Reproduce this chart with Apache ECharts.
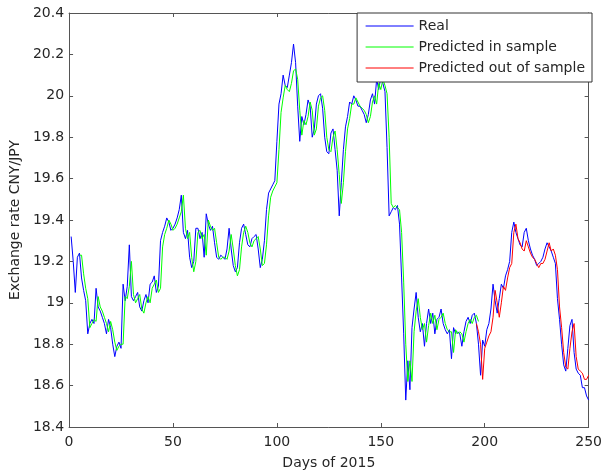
<!DOCTYPE html>
<html>
<head>
<meta charset="utf-8">
<script src="https://cdn.jsdelivr.net/npm/echarts@6/dist/echarts.min.js"></script>
<style>
  html, body { margin: 0; padding: 0; background: #fff; }
  #chart { width: 605px; height: 475px; }
</style>
</head>
<body>
<div id="chart"></div>
<script>
// CNY/JPY exchange rate over the trading days of 2015

// Observed rate, days 1..250
const realStart = 1;
const realRates = [
  19.32, 19.20, 19.05, 19.22, 19.24, 19.12, 19.06, 19.01, 18.85, 18.90,
  18.92, 18.90, 19.07, 18.98, 18.96, 18.93, 18.90, 18.85, 18.92, 18.88,
  18.80, 18.74, 18.79, 18.81, 18.78, 19.09, 19.01, 19.08, 19.28, 19.03,
  19.01, 19.03, 19.05, 18.98, 18.96, 19.01, 19.04, 19.00, 19.09, 19.10,
  19.13, 19.05, 19.08, 19.30, 19.34, 19.37, 19.41, 19.39, 19.35, 19.36,
  19.38, 19.41, 19.45, 19.52, 19.34, 19.31, 19.35, 19.22, 19.17, 19.20,
  19.36, 19.36, 19.31, 19.34, 19.22, 19.43, 19.38, 19.35, 19.37, 19.29,
  19.22, 19.21, 19.23, 19.22, 19.21, 19.26, 19.36, 19.26, 19.18, 19.15,
  19.17, 19.29, 19.36, 19.38, 19.33, 19.28, 19.27, 19.31, 19.32, 19.33,
  19.26, 19.17, 19.21, 19.30, 19.45, 19.53, 19.55, 19.57, 19.59, 19.78,
  19.96, 20.01, 20.10, 20.05, 20.04, 20.10, 20.16, 20.25, 20.16, 19.95,
  19.78, 19.90, 19.86, 19.91, 19.98, 19.95, 19.80, 19.84, 19.96, 20.00,
  20.01, 19.94, 19.80, 19.73, 19.72, 19.82, 19.84, 19.74, 19.64, 19.42,
  19.58, 19.74, 19.85, 19.90, 19.97, 19.96, 20.00, 19.98, 19.95, 19.95,
  19.93, 19.91, 19.87, 19.91, 19.98, 20.01, 19.96, 20.08, 20.03, 20.09,
  20.06, 20.02, 19.75, 19.42, 19.44, 19.46, 19.45, 19.47, 19.38, 19.12,
  18.85, 18.53, 18.72, 18.58, 18.88, 18.97, 19.05, 18.93, 18.86, 18.90,
  18.79, 18.90, 18.97, 18.90, 18.95, 18.85, 18.92, 18.93, 18.97, 18.90,
  18.87, 18.85, 18.87, 18.73, 18.88, 18.85, 18.86, 18.85, 18.79, 18.86,
  18.91, 18.93, 18.90, 18.94, 18.95, 18.90, 18.80, 18.65, 18.82, 18.79,
  18.87, 18.90, 18.97, 19.09, 19.01, 18.95, 19.02, 19.09, 19.07, 19.13,
  19.16, 19.20, 19.34, 19.39, 19.34, 19.31, 19.28, 19.27, 19.34, 19.36,
  19.30, 19.26, 19.23, 19.21, 19.18, 19.19, 19.20, 19.22, 19.26, 19.29,
  19.27, 19.25, 19.22, 19.19, 19.02, 18.92, 18.80, 18.70, 18.67, 18.78,
  18.89, 18.92, 18.76, 18.68, 18.66, 18.65, 18.59, 18.59, 18.55, 18.53
];

// In-sample model output, days 5..197
const inSampleStart = 5;
const inSampleRates = [
  19.23, 19.23, 19.14, 19.07, 19.02, 18.88, 18.90, 18.92, 18.91, 19.03,
  18.98, 18.96, 18.93, 18.90, 18.86, 18.91, 18.87, 18.81, 18.77, 18.79,
  18.80, 18.80, 19.03, 19.02, 19.08, 19.20, 19.04, 19.00, 19.02, 19.04,
  18.97, 18.95, 19.00, 19.03, 19.00, 19.07, 19.09, 19.11, 19.05, 19.07,
  19.27, 19.33, 19.36, 19.40, 19.38, 19.35, 19.36, 19.38, 19.41, 19.44,
  19.52, 19.36, 19.31, 19.34, 19.22, 19.15, 19.20, 19.34, 19.35, 19.31,
  19.33, 19.23, 19.40, 19.37, 19.35, 19.36, 19.29, 19.22, 19.21, 19.22,
  19.22, 19.21, 19.25, 19.33, 19.26, 19.18, 19.13, 19.16, 19.27, 19.34,
  19.37, 19.34, 19.29, 19.27, 19.30, 19.31, 19.32, 19.26, 19.18, 19.19,
  19.28, 19.42, 19.51, 19.54, 19.56, 19.58, 19.74, 19.92, 19.99, 20.05,
  20.03, 20.02, 20.06, 20.12, 20.13, 20.08, 19.93, 19.81, 19.88, 19.86,
  19.90, 19.97, 19.93, 19.81, 19.84, 19.95, 19.99, 20.00, 19.93, 19.80,
  19.74, 19.73, 19.80, 19.83, 19.74, 19.62, 19.48, 19.58, 19.73, 19.84,
  19.89, 19.96, 19.96, 19.99, 19.97, 19.95, 19.94, 19.93, 19.91, 19.87,
  19.90, 19.97, 20.00, 19.96, 20.06, 20.03, 20.08, 20.05, 20.01, 19.80,
  19.48, 19.46, 19.47, 19.46, 19.45, 19.34, 19.10, 18.80, 18.62, 18.72,
  18.62, 18.86, 18.96, 19.02, 18.93, 18.87, 18.90, 18.81, 18.89, 18.95,
  18.90, 18.94, 18.87, 18.92, 18.93, 18.95, 18.90, 18.87, 18.86, 18.86,
  18.76, 18.87, 18.85, 18.86, 18.85, 18.81, 18.86, 18.90, 18.92, 18.90,
  18.93, 18.94, 18.91
];

// Out-of-sample forecast, days 196..250
const outSampleStart = 196;
const outSampleRates = [
  18.90, 18.86, 18.80, 18.63, 18.78, 18.81, 18.84, 18.86, 18.93, 19.06,
  19.00, 18.93, 19.00, 19.08, 19.06, 19.12, 19.17, 19.19, 19.34, 19.38,
  19.31, 19.29, 19.26, 19.25, 19.30, 19.27, 19.24, 19.22, 19.21, 19.19,
  19.17, 19.19, 19.19, 19.21, 19.25, 19.29, 19.25, 19.26, 19.23, 19.16,
  18.98, 18.88, 18.76, 18.69, 18.68, 18.78, 18.86, 18.90, 18.74, 18.68,
  18.67, 18.66, 18.63, 18.63, 18.65
];

// Axis ticks
const xTicks = [0, 50, 100, 150, 200, 250];
const yTicks = [18.4, 18.6, 18.8, 19, 19.2, 19.4, 19.6, 19.8, 20, 20.2, 20.4];

const seriesNames = ['Real', 'Predicted in sample', 'Predicted out of sample'];

function toPairs(start, values) {
  return values.map((v, i) => [start + i, v]);
}

const FONT = '"DejaVu Sans", "Liberation Sans", Arial, sans-serif';
const TEXT = '#262626';
const FRAME = '#555';

const chart = echarts.init(document.getElementById('chart'), null, { renderer: 'canvas' });

const xMin = xTicks[0], xMax = xTicks[xTicks.length - 1];
const yMin = yTicks[0], yMax = yTicks[yTicks.length - 1];
const xStep = xTicks[1] - xTicks[0];
const yStep = +(yTicks[1] - yTicks[0]).toFixed(1);

const frameAxis = {
  axisLine: { show: true, onZero: false, lineStyle: { color: FRAME, width: 1 } },
  axisTick: { show: true, inside: true, length: 4, lineStyle: { color: FRAME } },
  splitLine: { show: false }
};

chart.setOption({
  animation: false,
  backgroundColor: '#fff',
  grid: { left: 67, right: 13, top: 13, bottom: 48, containLabel: false },
  legend: {
    data: seriesNames,
    orient: 'vertical',
    right: 13,
    top: 13,
    itemWidth: 48,
    itemHeight: 14,
    itemGap: 7,
    padding: [6, 7, 7, 8],
    borderColor: '#333',
    borderWidth: 1,
    borderRadius: 0,
    backgroundColor: '#fff',
    // plain thin line samples, no marker in the middle
    itemStyle: { opacity: 0 },
    lineStyle: { width: 1 },
    textStyle: { fontFamily: FONT, fontSize: 14, color: TEXT },
    z: 10
  },
  xAxis: [
    Object.assign({
      type: 'value', min: xMin, max: xMax, interval: xStep, position: 'bottom',
      name: 'Days of 2015', nameLocation: 'middle', nameGap: 29,
      nameTextStyle: { fontFamily: FONT, fontSize: 14, color: TEXT },
      axisLabel: { fontFamily: FONT, fontSize: 14, color: TEXT, margin: 8 }
    }, frameAxis),
    Object.assign({
      type: 'value', min: xMin, max: xMax, interval: xStep, position: 'top',
      axisLabel: { show: false }
    }, frameAxis)
  ],
  yAxis: [
    Object.assign({
      type: 'value', min: yMin, max: yMax, interval: yStep, position: 'left',
      name: 'Exchange rate CNY/JPY', nameLocation: 'middle', nameGap: 47,
      nameTextStyle: { fontFamily: FONT, fontSize: 14, color: TEXT },
      axisLabel: {
        fontFamily: FONT, fontSize: 14, color: TEXT, margin: 5,
        formatter: v => String(+v.toFixed(1))
      }
    }, frameAxis),
    Object.assign({
      type: 'value', min: yMin, max: yMax, interval: yStep, position: 'right',
      axisLabel: { show: false }
    }, frameAxis)
  ],
  series: [
    {
      name: seriesNames[0], type: 'line', data: toPairs(realStart, realRates),
      symbol: 'none', lineStyle: { color: '#0000ff', width: 1 }, itemStyle: { color: '#0000ff' }
    },
    {
      name: seriesNames[1], type: 'line', data: toPairs(inSampleStart, inSampleRates),
      symbol: 'none', lineStyle: { color: '#00ff00', width: 1 }, itemStyle: { color: '#00ff00' }
    },
    {
      name: seriesNames[2], type: 'line', data: toPairs(outSampleStart, outSampleRates),
      symbol: 'none', lineStyle: { color: '#ff0000', width: 1 }, itemStyle: { color: '#ff0000' }
    }
  ]
});
</script>
</body>
</html>
